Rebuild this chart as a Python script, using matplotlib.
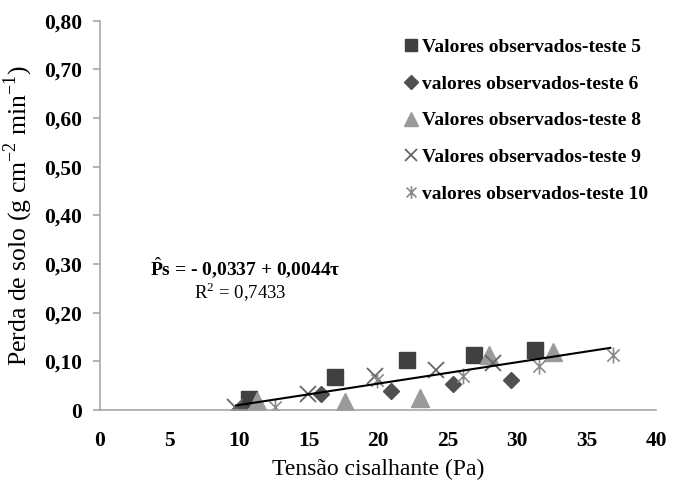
import numpy as np
import matplotlib
matplotlib.use("Agg")
import matplotlib.pyplot as plt
from matplotlib.path import Path

plt.rcParams['font.family'] = ['Liberation Serif', 'DejaVu Serif']
plt.rcParams['mathtext.fontset'] = 'custom'
plt.rcParams['mathtext.rm'] = 'Liberation Serif'
plt.rcParams['mathtext.bf'] = 'Liberation Serif:bold'

# observed values per test (x = shear stress, y = soil loss)
x5 = [10.7, 16.9, 22.1, 26.9, 31.3]
y5 = [0.022, 0.068, 0.103, 0.113, 0.123]
x6 = [10.1, 15.9, 20.9, 25.4, 29.6]
y6 = [0.003, 0.034, 0.040, 0.053, 0.062]
x8 = [11.3, 17.6, 23.0, 28.0, 32.6]
y8 = [0.018, 0.016, 0.025, 0.113, 0.120]
x9 = [9.7, 15.0, 19.8, 24.2, 28.3]
y9 = [0.006, 0.033, 0.071, 0.083, 0.096]
x10 = [12.6, 19.9, 26.1, 31.6, 36.9]
y10 = [0.007, 0.061, 0.070, 0.090, 0.113]

labels = ['Valores observados-teste 5', 'valores observados-teste 6',
          'Valores observados-teste 8', 'Valores observados-teste 9',
          'valores observados-teste 10']

# fitted trend line
intercept = -0.0337
slope = 0.0044
fit_x = [9.8, 36.7]

xticks = [0, 5, 10, 15, 20, 25, 30, 35, 40]
yticks = [0, 0.1, 0.2, 0.3, 0.4, 0.5, 0.6, 0.7, 0.8]
ytick_labels = ['0', '0,10', '0,20', '0,30', '0,40', '0,50', '0,60', '0,70', '0,80']

# asterisk marker: an x with a vertical bar
star = Path([(-1, -1), (1, 1), (-1, 1), (1, -1), (0, -1.3), (0, 1.3)],
            [Path.MOVETO, Path.LINETO, Path.MOVETO, Path.LINETO, Path.MOVETO, Path.LINETO])

fig = plt.figure(figsize=(6.75, 4.83), dpi=100)
ax = fig.add_axes([0.148, 0.151, 0.824, 0.806])

ax.plot(x5, y5, ls='none', marker='s', ms=11.5, color='#404040', label=labels[0])
ax.plot(x6, y6, ls='none', marker='D', ms=8.5, color='#505050', label=labels[1])
ax.plot(x8, y8, ls='none', marker='^', ms=13, color='#9a9a9a', label=labels[2])
ax.plot(x9, y9, ls='none', marker='x', ms=11, mew=1.3, color='#666666', label=labels[3])
ax.plot(x10, y10, ls='none', marker=star, ms=11.5, mew=1.2, mfc='none', mec='#8a8a8a', label=labels[4])

fx = np.array(fit_x)
ax.plot(fx, intercept + slope * fx, color='black', lw=1.5)

ax.set_xlim(0, 40)
ax.set_ylim(0, 0.8)
ax.set_xticks(xticks)
ax.set_xticklabels([str(v) for v in xticks], fontsize=15.5, fontweight='bold')
ax.set_yticks(yticks)
ax.set_yticklabels(ytick_labels, fontsize=15.5, fontweight='bold')
ax.tick_params(axis='x', length=0, pad=15)
ax.tick_params(axis='y', length=5, width=1.1, color='#a0a0a0', pad=8)

for s in ['top', 'right']:
    ax.spines[s].set_visible(False)
for s in ['left', 'bottom']:
    ax.spines[s].set_color('#a0a0a0')
    ax.spines[s].set_linewidth(1.1)

ax.set_xlabel('Tensão cisalhante (Pa)', fontsize=17, labelpad=6)
ax.set_ylabel('Perda de solo (g cm$^{-2}$ min$^{-1}$)', fontsize=18.5, labelpad=6)

ax.text(0.09, 0.365, r'$\hat{\mathbf{P}}$s = - 0,0337 + 0,0044τ', transform=ax.transAxes,
        fontsize=14, fontweight='bold', va='center', ha='left')
ax.text(0.252, 0.303, r'R$^{2}$ = 0,7433', transform=ax.transAxes,
        fontsize=13.5, va='center', ha='center')

leg = ax.legend(loc='upper left', bbox_to_anchor=(386 / 675, 1 - 21 / 483),
                bbox_transform=fig.transFigure, frameon=False, numpoints=1,
                markerscale=0.8, handlelength=0.8, handletextpad=0.15, labelspacing=0.98,
                prop={'size': 14, 'weight': 'bold'})

fig.savefig('out.png', dpi=100)
